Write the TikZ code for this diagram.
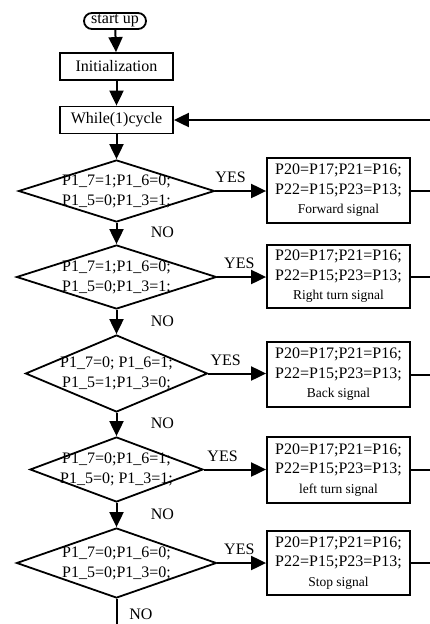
\documentclass[tikz,border=0pt]{standalone}
\usepackage{fontspec}
\setmainfont{Liberation Serif}
\usetikzlibrary{shapes.geometric,arrows.meta}
\tikzset{
  base/.style={draw, line width=1.8pt, inner sep=0pt, font=\fontsize{16}{19.5}\selectfont},
  term/.style={base, rounded corners=8pt, minimum width=62pt, minimum height=16pt},
  proc/.style={base, minimum width=113pt, minimum height=27pt},
  dia/.style={base, diamond},
  outbox/.style={base, minimum width=143pt, align=center},
  lbl/.style={font=\fontsize{16}{19.5}\selectfont, inner sep=0pt},
  dtext/.style={font=\fontsize{16}{20}\selectfont, align=center, inner sep=0pt},
  flow/.style={line width=2pt, -{Triangle[length=15pt,width=14pt]}},
  plain/.style={line width=2pt}
}
\newcommand{\sig}[1]{{\fontsize{13.5}{16}\selectfont #1}}
\begin{document}
\begin{tikzpicture}[x=1pt,y=-1pt]
\useasboundingbox (0,0) rectangle (430,624);
% main column
\node[term] (start) at (115,21) {start up};
\node[proc] (init) at (116.5,66.5) {Initialization};
\node[proc] (loop) at (116.5,120) {While(1)cycle};
\node[dia, minimum width=196pt, minimum height=62pt, label={[dtext]center:P1\_7=1;P1\_6=0;\\P1\_5=0;P1\_3=1;}] (d1) at (116.5,191) {};
\node[dia, minimum width=200pt, minimum height=64pt, label={[dtext]center:P1\_7=1;P1\_6=0;\\P1\_5=0;P1\_3=1;}] (d2) at (116.5,277) {};
\node[dia, minimum width=182pt, minimum height=77pt, label={[dtext]center:P1\_7=0; P1\_6=1;\\P1\_5=1;P1\_3=0;}] (d3) at (116.5,373.5) {};
\node[dia, minimum width=173pt, minimum height=65pt, label={[dtext]center:P1\_7=0;P1\_6=1;\\P1\_5=0; P1\_3=1;}] (d4) at (116.5,469.5) {};
\node[dia, minimum width=200pt, minimum height=70pt, label={[dtext]center:P1\_7=0;P1\_6=0;\\P1\_5=0;P1\_3=0;}] (d5) at (116.5,563) {};
% output boxes
\node[outbox, minimum height=65pt] (b1) at (338.5,190.5) {P20=P17;P21=P16;\\P22=P15;P23=P13;\\\sig{Forward signal}};
\node[outbox, minimum height=63pt] (b2) at (338.5,276.5) {P20=P17;P21=P16;\\P22=P15;P23=P13;\\\sig{Right turn signal}};
\node[outbox, minimum height=65pt] (b3) at (338.5,374.5) {P20=P17;P21=P16;\\P22=P15;P23=P13;\\\sig{Back signal}};
\node[outbox, minimum height=66pt] (b4) at (338.5,470) {P20=P17;P21=P16;\\P22=P15;P23=P13;\\\sig{left turn signal}};
\node[outbox, minimum height=64pt] (b5) at (338.5,563) {P20=P17;P21=P16;\\P22=P15;P23=P13;\\\sig{Stop signal}};
% right edge coordinates
\coordinate (r0) at (432,120);
\coordinate (r1) at (b1.east -| r0);
\coordinate (r2) at (b2.east -| r0);
\coordinate (r3) at (b3.east -| r0);
\coordinate (r4) at (b4.east -| r0);
\coordinate (r5) at (b5.east -| r0);
\coordinate (bot) at (116.5,630);
% vertical flow
\draw[flow] (start) -- (init);
\draw[flow] (init) -- (loop);
\draw[flow] (loop) -- (d1);
\draw[flow] (d1) -- node[lbl, pos=0.45, xshift=46pt] {NO} (d2);
\draw[flow] (d2) -- node[lbl, pos=0.45, xshift=46pt] {NO} (d3);
\draw[flow] (d3) -- node[lbl, pos=0.45, xshift=46pt] {NO} (d4);
\draw[flow] (d4) -- node[lbl, pos=0.45, xshift=46pt] {NO} (d5);
\draw[plain] (d5.south) -- (bot);
\node[lbl] (nolast) at (141,614) {NO};
% yes branches
\draw[flow] (d1.east) -- node[lbl, above=7pt, pos=0.3] {YES} (b1.west |- d1.east);
\draw[flow] (d2.east) -- node[lbl, above=7pt, pos=0.45] {YES} (b2.west |- d2.east);
\draw[flow] (d3.east) -- node[lbl, above=7pt, pos=0.3] {YES} (b3.west |- d3.east);
\draw[flow] (d4.east) -- node[lbl, above=7pt, pos=0.3] {YES} (b4.west |- d4.east);
\draw[flow] (d5.east) -- node[lbl, above=7pt, pos=0.45] {YES} (b5.west |- d5.east);
% return lines
\draw[plain] (b1.east) -- (r1);
\draw[plain] (b2.east) -- (r2);
\draw[plain] (b3.east) -- (r3);
\draw[plain] (b4.east) -- (r4);
\draw[plain] (b5.east) -- (r5);
\draw[flow] (r0) -- (loop.east);
\end{tikzpicture}
\end{document}
